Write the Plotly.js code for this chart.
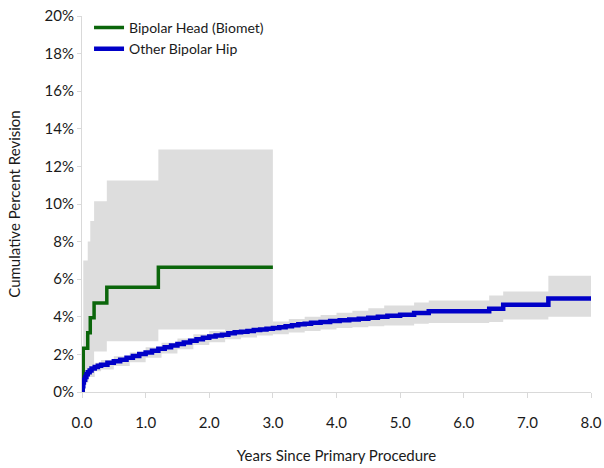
<!DOCTYPE html>
<html>
<head>
<meta charset="utf-8">
<script src="https://cdn.plot.ly/plotly-3.0.1.min.js"></script>
<style>html,body{margin:0;padding:0;background:#fff;}#chart{width:604px;height:468px;}</style>
</head>
<body>
<div id="chart"></div>
<script>
// Bipolar Head (Biomet): Kaplan-Meier cumulative percent revision
const greenTimes = [0, 0.02, 0.09, 0.13, 0.19, 0.39, 1.2, 3.0];
const greenValues = [0, 2.33, 3.15, 3.95, 4.73, 5.57, 6.63, 6.63];
const greenUpper = [0, 7.0, 8.0, 9.1, 10.15, 11.25, 12.9, 12.9];
const greenLower = [0, 0.5, 0.9, 1.4, 2.15, 2.7, 3.33, 3.33];

// Other Bipolar Hip
const blueTimes = [0, 0.01, 0.02, 0.03, 0.05, 0.07, 0.09, 0.12, 0.15, 0.2, 0.25, 0.3, 0.4, 0.5, 0.6, 0.7, 0.8, 0.9, 1.0, 1.1, 1.2, 1.3, 1.4, 1.5, 1.6, 1.7, 1.8, 1.9, 2.0, 2.1, 2.2, 2.3, 2.4, 2.5, 2.6, 2.7, 2.8, 2.9, 3.0, 3.1, 3.2, 3.3, 3.4, 3.5, 3.6, 3.75, 3.9, 4.05, 4.2, 4.35, 4.5, 4.65, 4.8, 5.0, 5.22, 5.45, 6.4, 6.62, 7.33, 8.0];
const blueValues = [0, 0.3, 0.5, 0.65, 0.8, 0.95, 1.05, 1.15, 1.25, 1.33, 1.4, 1.45, 1.55, 1.63, 1.72, 1.82, 1.92, 2.02, 2.1, 2.2, 2.3, 2.38, 2.47, 2.55, 2.63, 2.72, 2.8, 2.88, 2.95, 3.0, 3.05, 3.12, 3.18, 3.2, 3.25, 3.3, 3.33, 3.36, 3.4, 3.45, 3.5, 3.55, 3.6, 3.63, 3.68, 3.72, 3.78, 3.82, 3.86, 3.9, 3.95, 4.0, 4.05, 4.11, 4.2, 4.3, 4.43, 4.64, 4.98, 4.98];
const blueCITimes = [0, 0.02, 0.05, 0.1, 0.2, 0.3, 0.5, 0.75, 1.0, 1.25, 1.5, 1.75, 2.0, 2.25, 2.5, 2.75, 3.0, 3.25, 3.5, 3.75, 4.0, 4.25, 4.5, 4.75, 5.22, 5.45, 6.4, 6.62, 7.33, 8.0];
const blueUpper = [0, 0.9, 1.1, 1.3, 1.55, 1.7, 1.9, 2.1, 2.38, 2.62, 2.85, 3.07, 3.25, 3.4, 3.52, 3.62, 3.75, 3.88, 4.0, 4.1, 4.22, 4.32, 4.45, 4.6, 4.76, 4.87, 5.13, 5.34, 6.19, 6.19];
const blueLower = [0, 0.2, 0.5, 0.8, 1.1, 1.2, 1.38, 1.58, 1.82, 2.05, 2.27, 2.5, 2.65, 2.8, 2.9, 3.0, 3.07, 3.17, 3.25, 3.32, 3.4, 3.45, 3.5, 3.54, 3.63, 3.67, 3.72, 3.85, 4.0, 4.0];

const seriesNames = ["Bipolar Head (Biomet)", "Other Bipolar Hip"];
const xTickValues = [0, 1, 2, 3, 4, 5, 6, 7, 8];
const xTickLabels = ["0.0", "1.0", "2.0", "3.0", "4.0", "5.0", "6.0", "7.0", "8.0"];
const yTickValues = [0, 2, 4, 6, 8, 10, 12, 14, 16, 18, 20];
const yTickLabels = ["0%", "2%", "4%", "6%", "8%", "10%", "12%", "14%", "16%", "18%", "20%"];

const bandColor = "#dddddd";
const greenColor = "#0b660b";
const blueColor = "#0000c8";
const fontFam = "Lato, 'Open Sans', sans-serif";

function band(x, y, fill) {
  return {x: x, y: y, mode: "lines", line: {width: 0, shape: "hv", color: bandColor},
    fill: fill, fillcolor: bandColor, showlegend: false, hoverinfo: "skip"};
}

const traces = [
  band(greenTimes, greenLower, "none"),
  band(greenTimes, greenUpper, "tonexty"),
  band(blueCITimes, blueLower, "none"),
  band(blueCITimes, blueUpper, "tonexty"),
  {x: greenTimes, y: greenValues, name: seriesNames[0], mode: "lines",
   line: {color: greenColor, width: 3.5, shape: "hv"}},
  {x: blueTimes, y: blueValues, name: seriesNames[1], mode: "lines",
   line: {color: blueColor, width: 4.5, shape: "hv"}}
];

const layout = {
  width: 604, height: 468,
  margin: {l: 82, r: 13, t: 14, b: 76},
  paper_bgcolor: "#fff", plot_bgcolor: "#fff",
  font: {family: fontFam, size: 15, color: "#1a1a1a"},
  showlegend: true,
  legend: {x: 0.0138, y: 1.011, xanchor: "left", yanchor: "top", traceorder: "normal",
    bgcolor: "rgba(0,0,0,0)", font: {family: fontFam, size: 14, color: "#1a1a1a"},
    tracegroupgap: 0},
  xaxis: {range: [0, 8], tickmode: "array", tickvals: xTickValues, ticktext: xTickLabels,
    showgrid: false, zeroline: false, showline: true, linecolor: "#d9d9d9", linewidth: 1,
    ticks: "outside", ticklen: 5, tickcolor: "#d9d9d9", ticklabelstandoff: 12,
    tickfont: {size: 15},
    title: {text: "Years Since Primary Procedure", font: {size: 15}, standoff: 20}},
  yaxis: {range: [0, 20], tickmode: "array", tickvals: yTickValues, ticktext: yTickLabels,
    showgrid: false, zeroline: false, showline: true, linecolor: "#d9d9d9", linewidth: 1,
    ticks: "outside", ticklen: 4, tickcolor: "#d9d9d9",
    tickfont: {size: 15},
    title: {text: "Cumulative Percent Revision", font: {size: 15}, standoff: 20}}
};

Plotly.newPlot("chart", traces, layout, {displayModeBar: false, staticPlot: true});
</script>
</body>
</html>
